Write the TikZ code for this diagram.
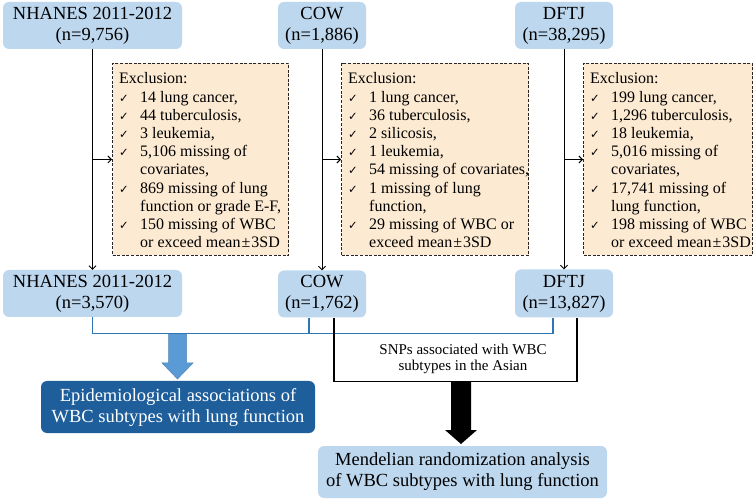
\documentclass[tikz,border=0pt]{standalone}
\usepackage{fontspec}
\setmainfont{Liberation Serif}
\newfontfamily\symfont{DejaVu Sans}
\usetikzlibrary{arrows.meta}
\definecolor{lblue}{RGB}{189,215,238}
\definecolor{peach}{RGB}{252,234,210}
\definecolor{dblue}{RGB}{30,94,155}
\definecolor{lineblue}{RGB}{46,117,182}
\definecolor{arrowblue}{RGB}{91,155,213}
\newcommand{\ck}{{\symfont\fontsize{11.5}{11.5}\selectfont ✓}}
\newcommand{\pmsd}{mean\kern1pt±\kern1pt3SD}
\newenvironment{exlist}{\fontsize{16}{18.2}\selectfont\renewcommand{\arraystretch}{1}\begin{tabular}{@{}p{21pt}@{}l@{}}}{\end{tabular}}
\tikzset{
  tbox/.style={rounded corners=6pt, fill=lblue, draw=none, align=center, inner sep=0pt,
    font=\fontsize{18.5}{21}\selectfont},
  exbox/.style={draw=black!85, dash pattern=on 3pt off 1.6pt, line width=1pt, fill=peach,
    anchor=north west, inner sep=0pt},
  extext/.style={anchor=north west, inner sep=0pt},
  arr/.style={draw=black, line width=1pt, -{Straight Barb[length=3.5pt,width=7pt,line width=0.9pt]}},
  bline/.style={draw=lineblue, line width=1.4pt},
  kline/.style={draw=black, line width=1.1pt},
}
\begin{document}
\begin{tikzpicture}[x=1pt,y=-1pt]
\useasboundingbox (0,0) rectangle (755,502);
% top boxes
\node[tbox, minimum width=179, minimum height=47] (nh1) at (92.5,25.5) {NHANES 2011-2012\\(n=9,756)};
\node[tbox, minimum width=88, minimum height=47] (cw1) at (322,25.5) {COW\\(n=1,886)};
\node[tbox, minimum width=98, minimum height=47] (df1) at (564,25.5) {DFTJ\\(n=38,295)};
% bottom boxes
\node[tbox, minimum width=179, minimum height=47] (nh2) at (92.5,293.5) {NHANES 2011-2012\\(n=3,570)};
\node[tbox, minimum width=88, minimum height=47] (cw2) at (322,294) {COW\\(n=1,762)};
\node[tbox, minimum width=98, minimum height=48] (df2) at (564,293.5) {DFTJ\\(n=13,827)};
% exclusion boxes
\node[exbox, minimum width=176, minimum height=192] (ex1) at (112,63) {};
\node[exbox, minimum width=187, minimum height=192] (ex2) at (341,63) {};
\node[exbox, minimum width=169, minimum height=192] (ex3) at (583,63) {};
\node[extext] (t1) at ([xshift=7pt,yshift=-8pt]ex1.north west) {\begin{exlist}
\multicolumn{2}{@{}l@{}}{Exclusion:}\\
\ck & 14 lung cancer,\\
\ck & 44 tuberculosis,\\
\ck & 3 leukemia,\\
\ck & 5,106 missing of\\
    & covariates,\\
\ck & 869 missing of lung\\
    & function or grade E-F,\\
\ck & 150 missing of WBC\\
    & or exceed \pmsd
\end{exlist}};
\node[extext] (t2) at ([xshift=7pt,yshift=-8pt]ex2.north west) {\begin{exlist}
\multicolumn{2}{@{}l@{}}{Exclusion:}\\
\ck & 1 lung cancer,\\
\ck & 36 tuberculosis,\\
\ck & 2 silicosis,\\
\ck & 1 leukemia,\\
\ck & 54 missing of covariates,\\
\ck & 1 missing of lung\\
    & function,\\
\ck & 29 missing of WBC or\\
    & exceed \pmsd
\end{exlist}};
\node[extext] (t3) at ([xshift=7pt,yshift=-8pt]ex3.north west) {\begin{exlist}
\multicolumn{2}{@{}l@{}}{Exclusion:}\\
\ck & 199 lung cancer,\\
\ck & 1,296 tuberculosis,\\
\ck & 18 leukemia,\\
\ck & 5,016 missing of\\
    & covariates,\\
\ck & 17,741 missing of\\
    & lung function,\\
\ck & 198 missing of WBC\\
    & or exceed \pmsd
\end{exlist}};
% vertical flows
\draw[arr] (nh1) -- (nh2);
\draw[arr] (cw1) -- (cw2);
\draw[arr] (df1) -- (df2);
\coordinate (b1) at (nh1.south |- ex1.west);
\coordinate (b2) at (cw1.south |- ex2.west);
\coordinate (b3) at (df1.south |- ex3.west);
\draw[arr] (b1) -- (ex1.west);
\draw[arr] (b2) -- (ex2.west);
\draw[arr] (b3) -- (ex3.west);
% fat arrows
\fill[arrowblue, draw=arrowblue!85!black, line width=0.5pt]
  (168.5,334) -- (186.5,334) -- (186.5,363) -- (193,363) -- (177.5,379) -- (162,363) -- (168.5,363) -- cycle;
\fill[black] (451,382) -- (471,382) -- (471,430) -- (477,430) -- (461,444) -- (445,430) -- (451,430) -- cycle;
% blue and black joins
\draw[bline] (nh2.south) -- ++(0,16.5) -| ([xshift=-11pt]df2.south);
\draw[bline] ([xshift=-13pt]cw2.south) -- ++(0,16);
\draw[kline] ([xshift=12pt]cw2.south) -- ++(0,64) -| ([xshift=13pt]df2.south);
\node[font=\fontsize{15}{16.5}\selectfont, align=center, inner sep=0pt] (snp) at (463,359) {SNPs associated with WBC\\subtypes in the Asian};
% results
\node[tbox, fill=dblue, text=white, minimum width=274, minimum height=52] (epi) at (178,407) {Epidemiological associations of\\WBC subtypes with lung function};
\node[tbox, minimum width=289, minimum height=52] (mr) at (462.5,472) {Mendelian randomization analysis\\of WBC subtypes with lung function};
\end{tikzpicture}
\end{document}
